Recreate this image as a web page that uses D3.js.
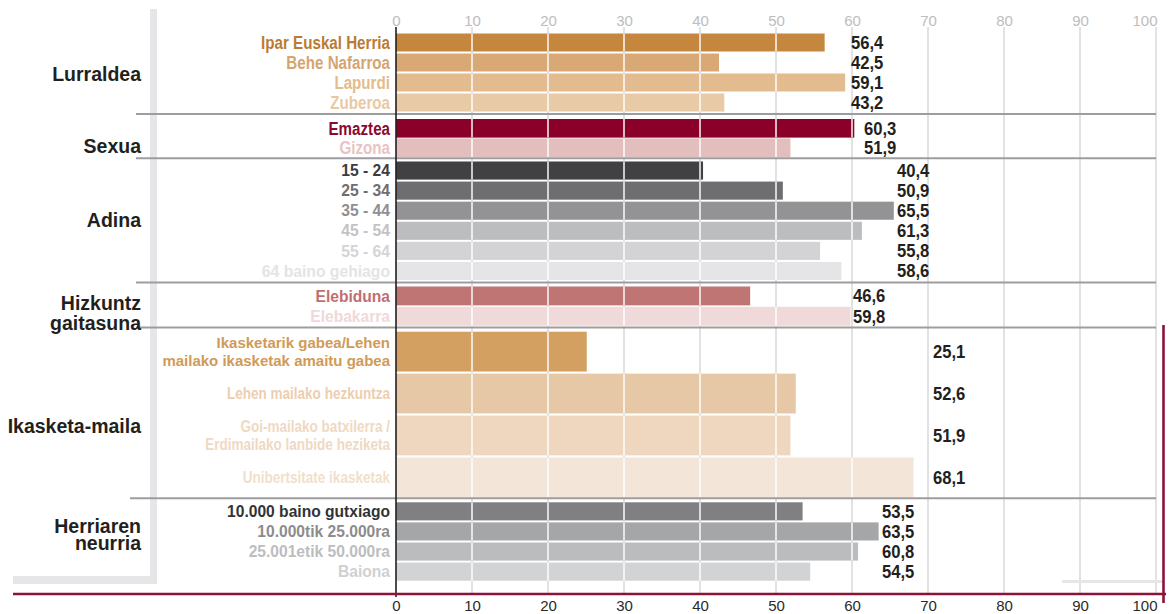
<!DOCTYPE html>
<html>
<head>
<meta charset="utf-8">
<script src="https://cdn.jsdelivr.net/npm/d3@7"></script>
<style>
  html, body { margin: 0; padding: 0; background: #ffffff; }
  svg { display: block; font-family: "Liberation Sans", Arial, Helvetica, sans-serif; }
</style>
</head>
<body>
<svg id="chart" width="1169" height="614"></svg>
<script>
// ---- Data (percent) ----
const groupNames = ["Lurraldea", "Sexua", "Adina", "Hizkuntz\ngaitasuna", "Ikasketa-maila", "Herriaren\nneurria"];

const lurraldeaCats = ["Ipar Euskal Herria", "Behe Nafarroa", "Lapurdi", "Zuberoa"];
const lurraldeaVals = [56.4, 42.5, 59.1, 43.2];

const sexuaCats = ["Emaztea", "Gizona"];
const sexuaVals = [60.3, 51.9];

const adinaCats = ["15 - 24", "25 - 34", "35 - 44", "45 - 54", "55 - 64", "64 baino gehiago"];
const adinaVals = [40.4, 50.9, 65.5, 61.3, 55.8, 58.6];

const hizkuntzCats = ["Elebiduna", "Elebakarra"];
const hizkuntzVals = [46.6, 59.8];

const ikasketaCats = [
  "Ikasketarik gabea/Lehen\nmailako ikasketak amaitu gabea",
  "Lehen mailako hezkuntza",
  "Goi-mailako batxilerra /\nErdimailako lanbide heziketa",
  "Unibertsitate ikasketak"
];
const ikasketaVals = [25.1, 52.6, 51.9, 68.1];

const herriaCats = ["10.000 baino gutxiago", "10.000tik 25.000ra", "25.001etik 50.000ra", "Baiona"];
const herriaVals = [53.5, 63.5, 60.8, 54.5];

const xTicks = [0, 10, 20, 30, 40, 50, 60, 70, 80, 90, 100];

// ---- Palettes ----
const barColors = [
  ["#c4873d", "#d9a975", "#e2bc8e", "#e8caa6"],
  ["#8a0029", "#e2bfbd"],
  ["#414143", "#6e6e70", "#939396", "#bcbdbf", "#d3d3d5", "#e5e5e7"],
  ["#bf7574", "#efdad9"],
  ["#d3a062", "#e6c8a6", "#eed7be", "#f3e5d8"],
  ["#808082", "#a5a6a8", "#bbbcbe", "#d2d3d5"]
];
const labelColors = [
  ["#bb7b32", "#d6a470", "#e3bb8c", "#e9c9a3"],
  ["#8a0a2e", "#e8c3c2"],
  ["#3c3c3e", "#6e6e70", "#8f8f91", "#c3c3c5", "#d4d4d6", "#e4e4e6"],
  ["#bf6f70", "#f1d9d9"],
  ["#d09a58", "#ecceb0", "#f0d9c2", "#f1dfcc"],
  ["#333335", "#8c8c8e", "#bdbdbf", "#d0d0d2"]
];

// ---- Layout ----
const groupBands = [[33.5, 111.5], [119, 157], [161.5, 280], [286.5, 325.7], [331.7, 497.3], [502.3, 580.7]];
const groupPadding = [0.1, 0.04, 0.1, 0.07, 0.05, 0.1];
const valueLabelX = [851, 864, 897, 853, 933, 882];
const separatorY = [114, 158.3, 282.5, 327.5, 498.3];
const separatorX0 = [136, 136, 136, 136, 130];
const groupLabelBaselines = [[80.7], [153.3], [226.7], [310, 329.5], [433.3], [532.7, 550]];
// category label font: [size, horizontal squeeze]
const catFont = [
  [[18.5, 0.82]],
  [[18.5, 0.82]],
  [[15.7, 1]],
  [[15.6, 1]],
  [[15, 1], [16.5, 0.82], [16.5, 0.82], [16.5, 0.82]],
  [[15.6, 1]]
];

const groups = [
  { cats: lurraldeaCats, vals: lurraldeaVals },
  { cats: sexuaCats, vals: sexuaVals },
  { cats: adinaCats, vals: adinaVals },
  { cats: hizkuntzCats, vals: hizkuntzVals },
  { cats: ikasketaCats, vals: ikasketaVals },
  { cats: herriaCats, vals: herriaVals }
];

const svg = d3.select("#chart");
const x = d3.scaleLinear().domain([0, 100]).range([396, 1156]);
const fmt = v => d3.format(".1f")(v).replace(".", ",");

const gridTop = 27, gridBottom = 593;

// Left grey frame
svg.append("rect").attr("x", 150).attr("y", 9).attr("width", 7).attr("height", 575).attr("fill", "#e6e6e8");
svg.append("rect").attr("x", 13).attr("y", 576).attr("width", 144).attr("height", 8).attr("fill", "#e6e6e8");

// Background gridlines
svg.append("g").selectAll("line")
  .data(xTicks.filter(t => t > 0))
  .join("line")
  .attr("x1", d => x(d)).attr("x2", d => x(d))
  .attr("y1", gridTop).attr("y2", gridBottom)
  .attr("stroke", "#e2e2e2").attr("stroke-width", 2);

// Bars
groups.forEach((g, gi) => {
  const y = d3.scaleBand().domain(g.cats).range(groupBands[gi]).paddingInner(groupPadding[gi]).paddingOuter(0);
  const rows = g.cats.map((c, i) => ({ c, v: g.vals[i], i }));
  const gg = svg.append("g");

  gg.selectAll("rect.bar").data(rows).join("rect")
    .attr("class", "bar")
    .attr("x", x(0))
    .attr("y", d => y(d.c))
    .attr("width", d => x(d.v) - x(0))
    .attr("height", y.bandwidth())
    .attr("fill", d => barColors[gi][d.i]);

  // light gridlines crossing the bars
  rows.forEach(d => {
    gg.append("g").selectAll("line")
      .data(xTicks.filter(t => t > 0 && t < d.v))
      .join("line")
      .attr("x1", t => x(t)).attr("x2", t => x(t))
      .attr("y1", y(d.c)).attr("y2", y(d.c) + y.bandwidth())
      .attr("stroke", "#ffffff").attr("stroke-opacity", 0.72).attr("stroke-width", 2);
  });

  // value labels
  gg.selectAll("text.val").data(rows).join("text")
    .attr("class", "val")
    .attr("transform", d => `translate(${valueLabelX[gi]},${y(d.c) + y.bandwidth() / 2 + 6.5}) scale(0.9,1)`)
    .attr("font-size", 18.5)
    .attr("font-weight", "bold")
    .attr("fill", "#231f20")
    .text(d => fmt(d.v));

  // category labels
  rows.forEach(d => {
    const spec = catFont[gi][d.i] || catFont[gi][0];
    const size = spec[0], squeeze = spec[1];
    const lines = d.c.split("\n");
    const cy = y(d.c) + y.bandwidth() / 2;
    const lh = 18;
    lines.forEach((ln, li) => {
      const by = cy + (li - (lines.length - 1) / 2) * lh + size * 0.36;
      gg.append("text")
        .attr("transform", `translate(390,${by}) scale(${squeeze},1)`)
        .attr("text-anchor", "end")
        .attr("font-size", size)
        .attr("font-weight", "bold")
        .attr("fill", labelColors[gi][d.i])
        .text(ln);
    });
  });
});

// Group separators
svg.append("g").selectAll("line")
  .data(separatorY)
  .join("line")
  .attr("x1", (d, i) => separatorX0[i]).attr("x2", 1156)
  .attr("y1", d => d).attr("y2", d => d)
  .attr("stroke", "#9d9d9f").attr("stroke-width", 2);

// Group labels
groupNames.forEach((name, gi) => {
  name.split("\n").forEach((ln, li) => {
    svg.append("text")
      .attr("x", 141)
      .attr("y", groupLabelBaselines[gi][li])
      .attr("text-anchor", "end")
      .attr("font-size", 19.5)
      .attr("font-weight", "bold")
      .attr("fill", "#231f20")
      .text(ln);
  });
});

// Top axis
const topAxis = svg.append("g")
  .attr("transform", `translate(0,${gridTop})`)
  .call(d3.axisTop(x).tickValues(xTicks).tickSize(0).tickPadding(1.5));
topAxis.select(".domain").remove();
topAxis.selectAll("text")
  .style("font-family", "'Liberation Sans', Arial, sans-serif")
  .attr("font-size", 15)
  .attr("fill", "#bdbdbd");

// Bottom axis
const bottomAxis = svg.append("g")
  .attr("transform", "translate(0,594)")
  .call(d3.axisBottom(x).tickValues(xTicks).tickSize(0).tickPadding(6.5));
bottomAxis.select(".domain").remove();
bottomAxis.selectAll("text")
  .style("font-family", "'Liberation Sans', Arial, sans-serif")
  .attr("font-size", 15)
  .attr("fill", "#2a2a2a");

[topAxis, bottomAxis].forEach(ax => {
  ax.selectAll(".tick").filter(d => d === 100).select("text")
    .attr("text-anchor", "end").attr("x", 1);
});

// Zero axis line
svg.append("line")
  .attr("x1", x(0)).attr("x2", x(0))
  .attr("y1", gridTop).attr("y2", 597)
  .attr("stroke", "#231f20").attr("stroke-width", 1.6);

// Frame accents
svg.append("line").attr("x1", 1062).attr("x2", 1163).attr("y1", 581.5).attr("y2", 581.5)
  .attr("stroke", "#e6e6e6").attr("stroke-width", 3);
svg.append("line").attr("x1", 13).attr("x2", 1166).attr("y1", 594).attr("y2", 594)
  .attr("stroke", "#8c1238").attr("stroke-width", 2.6);
svg.append("line").attr("x1", 1163.5).attr("x2", 1163.5).attr("y1", 325).attr("y2", 603)
  .attr("stroke", "#8c1238").attr("stroke-width", 2.6);
</script>
</body>
</html>
